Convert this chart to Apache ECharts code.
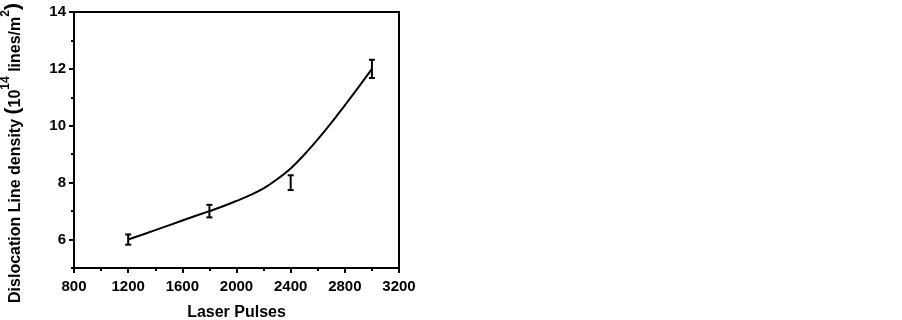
<!DOCTYPE html>
<html>
<head>
<meta charset="utf-8">
<script src="https://cdn.jsdelivr.net/npm/echarts@6/dist/echarts.min.js"></script>
<style>
html,body{margin:0;padding:0;background:#fff;}
#chart{width:902px;height:320px;}
</style>
</head>
<body>
<div id="chart"></div>
<script>
// Measured points with error bars
var pulses = [1200, 1800, 2400, 3000];
var density = [6.0, 7.0, 8.0, 12.0];
var densityErr = [0.18, 0.22, 0.26, 0.32];
// Fitted curve
var fitPulses = [1200, 1400, 1600, 1800, 1900, 2000, 2100, 2200, 2300, 2400, 2500, 2600, 2700, 2800, 2900, 3000];
var fitDensity = [6.0, 6.33, 6.67, 7.0, 7.17, 7.36, 7.56, 7.8, 8.12, 8.5, 8.98, 9.52, 10.1, 10.72, 11.35, 12.0];
// Axis ticks
var xTicks = [800, 1200, 1600, 2000, 2400, 2800, 3200];
var yMajorTicks = [6, 8, 10, 12, 14];

var chart = echarts.init(document.getElementById('chart'));
var font = 'Liberation Sans, Arial, sans-serif';
var errData = pulses.map(function (p, i) { return [p, density[i] - densityErr[i], density[i] + densityErr[i]]; });
var fitData = fitPulses.map(function (p, i) { return [p, fitDensity[i]]; });

chart.setOption({
  animation: false,
  backgroundColor: '#fff',
  grid: { left: 74, right: 503, top: 12, bottom: 52, containLabel: false, outerBoundsMode: 'none',
    show: true, borderColor: '#000', borderWidth: 2, backgroundColor: 'transparent' },
  xAxis: {
    type: 'value', min: xTicks[0], max: xTicks[xTicks.length - 1], interval: 400,
    name: 'Laser Pulses', nameLocation: 'middle', nameGap: 37,
    nameTextStyle: { fontFamily: font, fontWeight: 'bold', fontSize: 16, color: '#000' },
    axisLine: { lineStyle: { color: '#000', width: 2 } },
    axisTick: { show: true, inside: false, length: 5, lineStyle: { color: '#000', width: 2 } },
    minorTick: { show: true, splitNumber: 2, length: 3, lineStyle: { color: '#000', width: 2 } },
    axisLabel: { fontFamily: font, fontWeight: 'bold', fontSize: 15, color: '#000', margin: 11,
      formatter: function (v) { return String(v); } },
    splitLine: { show: false }, minorSplitLine: { show: false }
  },
  yAxis: [{
    type: 'value', min: 5, max: 14, interval: 1,
    name: '{a|Dislocation Line density }{p|(}{a|10}{s|14}{a| lines/m}{s|2}{p|)}',
    nameLocation: 'middle', nameGap: 50, nameRotate: 90,
    nameTextStyle: {
      fontFamily: font, fontWeight: 'bold', fontSize: 16, color: '#000', padding: [0, 26, 0, 0],
      rich: {
        a: { fontFamily: font, fontWeight: 'bold', fontSize: 16, color: '#000', lineHeight: 24, verticalAlign: 'bottom' },
        s: { fontFamily: font, fontWeight: 'bold', fontSize: 12, color: '#000', lineHeight: 24, verticalAlign: 'top' },
        p: { fontFamily: font, fontWeight: 'bold', fontSize: 21, color: '#000', lineHeight: 24, verticalAlign: 'bottom' }
      }
    },
    axisLine: { lineStyle: { color: '#000', width: 2 } },
    axisTick: { show: true, inside: false, length: 3, lineStyle: { color: '#000', width: 2 } },
    axisLabel: {
      fontFamily: font, fontWeight: 'bold', fontSize: 15, color: '#000', margin: 8,
      formatter: function (v) { return yMajorTicks.indexOf(v) >= 0 ? String(v) : ''; }
    },
    splitLine: { show: false }
  }, {
    type: 'value', min: 5, max: 14, position: 'left',
    axisLine: { show: false },
    axisTick: { show: true, inside: false, length: 5, customValues: yMajorTicks, lineStyle: { color: '#000', width: 2 } },
    axisLabel: { show: false },
    splitLine: { show: false }
  }],
  series: [{
    type: 'line', data: fitData, smooth: 0.4, showSymbol: false, symbol: 'none',
    lineStyle: { color: '#000', width: 2 }, z: 3
  }, {
    type: 'custom', data: errData, z: 4,
    renderItem: function (params, api) {
      var x = api.value(0);
      var lo = api.coord([x, api.value(1)]);
      var hi = api.coord([x, api.value(2)]);
      var w = 3;
      var st = { stroke: '#000', lineWidth: 2 };
      return {
        type: 'group',
        children: [
          { type: 'line', shape: { x1: lo[0], y1: lo[1], x2: hi[0], y2: hi[1] }, style: st },
          { type: 'line', shape: { x1: lo[0] - w, y1: lo[1], x2: lo[0] + w, y2: lo[1] }, style: st },
          { type: 'line', shape: { x1: hi[0] - w, y1: hi[1], x2: hi[0] + w, y2: hi[1] }, style: st }
        ]
      };
    }
  }]
});
</script>
</body>
</html>
